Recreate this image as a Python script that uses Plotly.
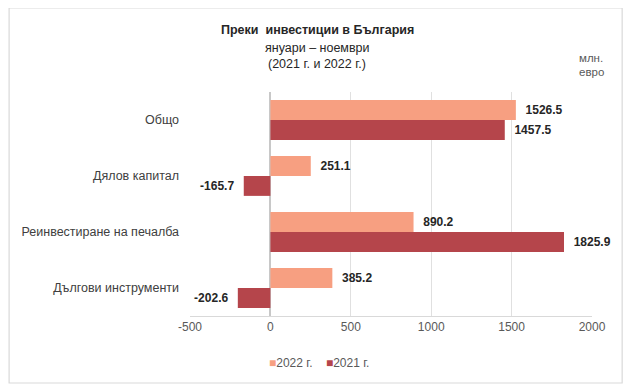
import plotly.graph_objects as go

categories = ["Общо", "Дялов капитал", "Реинвестиране на печалба", "Дългови инструменти"]
values_2022 = [1526.5, 251.1, 890.2, 385.2]
values_2021 = [1457.5, -165.7, 1825.9, -202.6]
series_names = ["2022 г.", "2021 г."]
x_ticks = [-500, 0, 500, 1000, 1500, 2000]

colors = ["#F79F81", "#B5454B"]
font_family = "Liberation Sans, Arial, sans-serif"
NB = "\u00a0"

fig = go.Figure()
for name, vals, col in zip(series_names, [values_2022, values_2021], colors):
    labels = [(NB * 2 + f"<b>{v:.1f}</b>") if v >= 0 else (f"<b>{v:.1f}</b>" + NB * 2) for v in vals]
    fig.add_trace(go.Bar(
        y=categories, x=vals, name=name, orientation="h",
        marker=dict(color=col, line=dict(width=0)),
        text=labels, textposition="outside",
        textfont=dict(family=font_family, size=12, color="#262626"),
        cliponaxis=False, showlegend=False,
    ))

# legend drawn as a text line with coloured squares
legend_text = (f"<span style='color:{colors[0]}'>■</span>{series_names[0]}" + NB * 4 +
               f"<span style='color:{colors[1]}'>■</span>{series_names[1]}")

fig.update_layout(
    width=623, height=384,
    margin=dict(l=182, r=39, t=84, b=76, autoexpand=False),
    paper_bgcolor="white", plot_bgcolor="white",
    barmode="group", bargap=0.29, bargroupgap=0,
    font=dict(family=font_family, size=12, color="#404040"),
    showlegend=False,
    xaxis=dict(range=[-500, 2000], tickvals=x_ticks, ticktext=[str(t) for t in x_ticks],
               showgrid=True, gridcolor="#E0E0E0", gridwidth=1,
               zeroline=True, zerolinecolor="#C8C8C8", zerolinewidth=1.5,
               showline=True, linecolor="#D9D9D9", linewidth=1, automargin=False,
               tickfont=dict(size=12, color="#595959"), ticks="", fixedrange=True),
    yaxis=dict(autorange="reversed", showgrid=False, ticks="", ticklabelstandoff=10,
               automargin=False,
               tickfont=dict(size=12.5, color="#404040"), fixedrange=True),
    shapes=[dict(type="rect", xref="paper", yref="paper",
                 x0=-0.450, x1=1.075, y0=-0.299, y1=1.375,
                 line=dict(color="#D9D9D9", width=1.2), layer="below")],
    annotations=[
        dict(text="<b>Преки  инвестиции в България</b>", xref="paper", yref="paper",
             x=0.316, y=1.277, xanchor="center", yanchor="middle", showarrow=False,
             font=dict(size=12.5, color="#262626")),
        dict(text="януари – ноември", xref="paper", yref="paper",
             x=0.316, y=1.196, xanchor="center", yanchor="middle", showarrow=False,
             font=dict(size=12.5, color="#262626")),
        dict(text="(2021 г. и 2022 г.)", xref="paper", yref="paper",
             x=0.316, y=1.127, xanchor="center", yanchor="middle", showarrow=False,
             font=dict(size=12.5, color="#262626")),
        dict(text="млн.", xref="paper", yref="paper",
             x=0.963, y=1.150, xanchor="left", yanchor="middle", showarrow=False,
             font=dict(size=11.5, color="#595959")),
        dict(text="евро", xref="paper", yref="paper",
             x=0.963, y=1.088, xanchor="left", yanchor="middle", showarrow=False,
             font=dict(size=11.5, color="#595959")),
        dict(text=legend_text, xref="paper", yref="paper",
             x=0.322, y=-0.210, xanchor="center", yanchor="middle", showarrow=False,
             font=dict(size=12, color="#595959")),
    ],
)

fig.write_html("out.html")
